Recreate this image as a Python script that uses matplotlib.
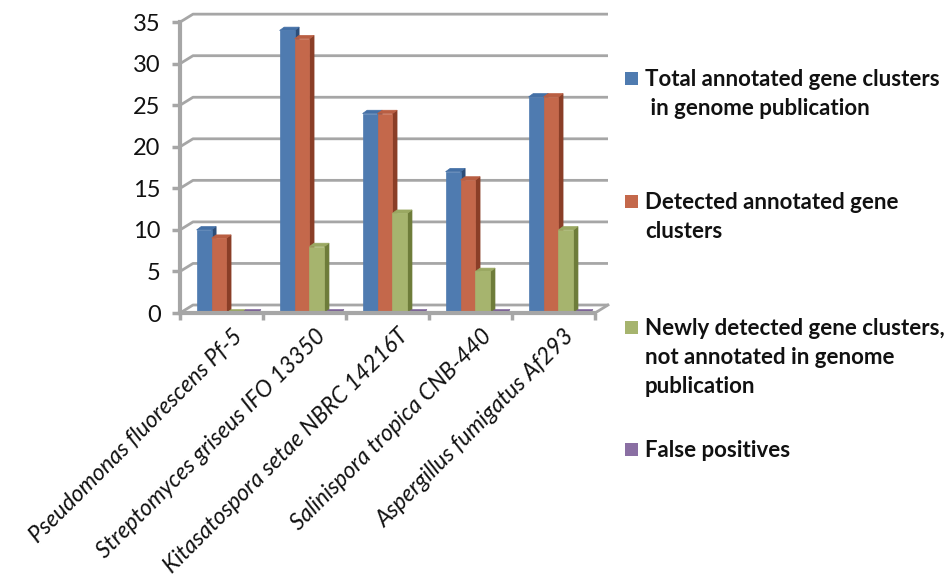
import matplotlib.pyplot as plt
from matplotlib.patches import Polygon, Rectangle

plt.rcParams['font.family'] = ['Lato', 'DejaVu Sans']

# data
species = ["Pseudomonas fluorescens Pf-5",
           "Streptomyces griseus IFO 13350",
           "Kitasatospora setae NBRC 14216T",
           "Salinispora tropica CNB-440",
           "Aspergillus fumigatus Af293"]
total_annotated = [10, 34, 24, 17, 26]
detected_annotated = [9, 33, 24, 16, 26]
newly_detected = [0, 8, 12, 5, 10]
false_positives = [0, 0, 0, 0, 0]

series_labels = ["Total annotated gene clusters\n in genome publication",
                 "Detected annotated gene\nclusters",
                 "Newly detected gene clusters,\nnot annotated in genome\npublication",
                 "False positives"]
y_ticks = [0, 5, 10, 15, 20, 25, 30, 35]

# face, side, top colours per series
front_colors = ["#4F7BB0", "#C4684B", "#A6B46E", "#8A6FA3"]
side_colors = ["#2C4D78", "#8A3E27", "#6E7C3A", "#5A4274"]
top_colors = ["#4470A6", "#B95E42", "#9AA862", "#7A5F95"]
grid_color = "#A6A6A6"

W, H = 944, 579
fig = plt.figure(figsize=(W / 100, H / 100), dpi=100)
# axes box in pixels: x 180..612, y 10..313
ax = fig.add_axes([180 / W, (H - 313) / H, 432 / W, 303 / H])
ax.set_xlim(0, 432 / 83)
ax.set_ylim(0, 303 / 8.31)

n = len(species)
ymax = y_ticks[-1]
wdx, wdy = 13 / 83, 8 / 8.31      # depth of the back wall
bdx, bdy = 0.055, 0.4             # depth of a bar
bw, first = 0.18, 0.2             # bar width, offset of first bar in group

# back wall grid lines with the little side-wall diagonals
for t in y_ticks:
    ax.plot([0, wdx, n + wdx], [t, t + wdy, t + wdy], color=grid_color, lw=2,
            solid_capstyle='butt', zorder=1)
ax.plot([n, n + wdx], [0, wdy], color=grid_color, lw=2, zorder=1)

# bars with a fake 3d look
series = [total_annotated, detected_annotated, newly_detected, false_positives]
for i in range(n):
    for s, vals in enumerate(series):
        v = vals[i]
        x = i + first + s * bw
        top = Polygon([(x, v), (x + bdx, v + bdy), (x + bw + bdx, v + bdy), (x + bw, v)],
                      closed=True, fc=top_colors[s], ec=top_colors[s], lw=0.5, zorder=3)
        side = Polygon([(x + bw, 0), (x + bw + bdx, bdy), (x + bw + bdx, v + bdy), (x + bw, v)],
                       closed=True, fc=side_colors[s], ec=side_colors[s], lw=0.5, zorder=3)
        ax.add_patch(side)
        ax.add_patch(top)
        if v > 0:
            ax.add_patch(Rectangle((x, 0), bw, v, fc=front_colors[s],
                                   ec=front_colors[s], lw=0.5, zorder=3))

# axes
for sp in ('top', 'right'):
    ax.spines[sp].set_visible(False)
ax.spines['left'].set_bounds(0, ymax)
ax.spines['bottom'].set_bounds(0, n)
for sp in ('left', 'bottom'):
    ax.spines[sp].set_color(grid_color)
    ax.spines[sp].set_linewidth(3)
    ax.spines[sp].set_zorder(4)

ax.set_yticks(y_ticks)
ax.set_yticklabels([str(t) for t in y_ticks])
ax.tick_params(axis='y', length=6, width=2.5, color=grid_color, pad=8,
               labelsize=17, labelcolor='#111111')
ax.set_xticks(range(n + 1))
ax.set_xticklabels([])
ax.tick_params(axis='x', length=5, width=2.5, color=grid_color)

for i, name in enumerate(species):
    ax.annotate(name, xy=(i + 0.62, 0), xytext=(0, -9), textcoords='offset points',
                ha='right', va='top', rotation=45, rotation_mode='anchor',
                fontsize=16.5, style='italic', color='#111111')

# legend, laid out by hand one line at a time
first_baselines = [86, 209, 335, 457]
line_step = 29
for s, (lab, b) in enumerate(zip(series_labels, first_baselines)):
    fig.patches.append(Rectangle((625 / W, (H - b + 1) / H), 13 / W, 13 / H,
                                 transform=fig.transFigure, fc=front_colors[s],
                                 ec='none'))
    for k, line in enumerate(lab.split("\n")):
        fig.text(645 / W, (H - b - k * line_step) / H, line, ha='left',
                 va='baseline', fontsize=16, fontweight='bold', color='#111111')

fig.savefig("out.png", dpi=100, facecolor='white')
